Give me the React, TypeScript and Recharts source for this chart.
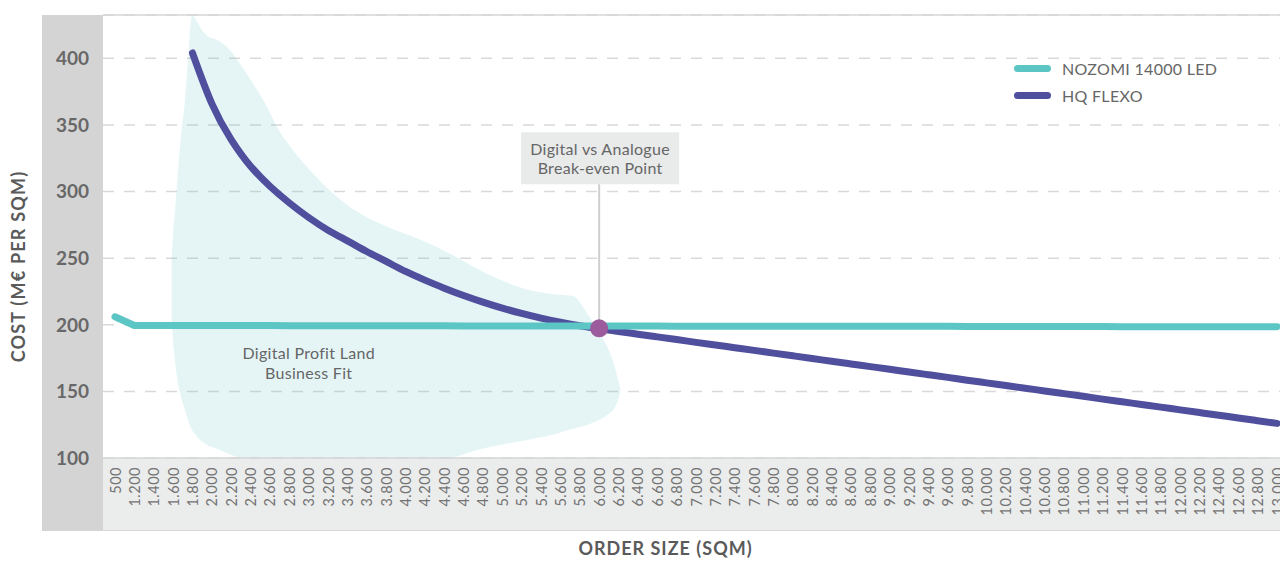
import {
  ComposedChart, Line, Area, XAxis, YAxis, CartesianGrid,
  ReferenceLine, ReferenceArea, ReferenceDot, Legend, Label,
} from 'recharts';

// x axis categories (order size, sqm)
const orderSizes = [
  '500', '1.200', '1.400', '1.600', '1.800', '2.000', '2.200', '2.400', '2.600', '2.800',
  '3.000', '3.200', '3.400', '3.600', '3.800', '4.000', '4.200', '4.400', '4.600', '4.800',
  '5.000', '5.200', '5.400', '5.600', '5.800', '6.000', '6.200', '6.400', '6.600', '6.800',
  '7.000', '7.200', '7.400', '7.600', '7.800', '8.000', '8.200', '8.400', '8.600', '8.800',
  '9.000', '9.200', '9.400', '9.600', '9.800', '10.000', '10.200', '10.400', '10.600', '10.800',
  '11.000', '11.200', '11.400', '11.600', '11.800', '12.000', '12.200', '12.400', '12.600', '12.800',
  '13.000',
];

// cost per sqm
const nozomiCost = [
  206, 199.5, 199.5, 199.5, 199.4, 199.4, 199.4, 199.4, 199.4, 199.3,
  199.3, 199.3, 199.3, 199.2, 199.2, 199.2, 199.2, 199.2, 199.1, 199.1,
  199.1, 199.1, 199.1, 199.0, 199.0, 199.0, 199.0, 199.0, 199.0, 198.9,
  198.9, 198.9, 198.9, 198.9, 198.9, 198.9, 198.8, 198.8, 198.8, 198.8,
  198.8, 198.8, 198.8, 198.8, 198.7, 198.7, 198.7, 198.7, 198.7, 198.7,
  198.7, 198.7, 198.6, 198.6, 198.6, 198.6, 198.6, 198.6, 198.6, 198.6,
  198.6,
];

const flexoCost = [
  null, null, null, null, 404, 366, 339, 319, 304, 291.5,
  280.5, 271, 263, 255, 247.5, 240, 233.5, 227.5, 222, 217,
  212.5, 208.5, 205, 202, 199.3, 197, 195, 192.9, 190.9, 188.9,
  186.8, 184.8, 182.8, 180.8, 178.7, 176.7, 174.7, 172.6, 170.6, 168.6,
  166.6, 164.5, 162.5, 160.5, 158.4, 156.4, 154.4, 152.4, 150.3, 148.3,
  146.3, 144.2, 142.2, 140.2, 138.2, 136.1, 134.1, 132.1, 130, 128,
  126,
];

// "Digital Profit Land" zone: position on the size scale (500 sits at 1.000), low and high cost
const zoneSize = [
  1584, 1599, 1620, 1651, 1682, 1723, 1754, 1795, 1837, 1878, 1950, 2064, 2157, 2291, 2426, 2570, 2673,
  2839, 3014, 3252, 3531, 3810, 4078, 4430, 4770, 5256, 5463, 5731, 5876, 6010, 6113, 6155, 6196, 6217,
];
const zoneLow = [
  204, 188.5, 172, 156, 146, 136, 128.5, 121, 117, 113.5, 110, 106.5, 103.5, 100, 97, 95, 94,
  93, 92.5, 92.5, 93, 94, 96, 99, 106.5, 113.5, 116.5, 122, 124.7, 129, 134, 137, 144, 149,
];
const zoneHigh = [
  248, 267, 286, 316, 342, 368.5, 398.5, 432, 429, 423.5, 417, 413.5, 408.5, 396, 381, 363.5, 348.5,
  331, 316, 298.5, 283.5, 273.5, 266, 254.5, 241, 226.5, 223.5, 221.5, 208.5, 193.5, 178.5, 170, 158.5, 152,
];

const costTicks = [100, 150, 200, 250, 300, 350, 400];
const breakEvenSize = 6000;
const breakEvenCost = 197.3;

const TEAL = '#5cc6c5';
const INDIGO = '#4f4f9e';
const FONT = 'Lato, "Open Sans", sans-serif';

const data = orderSizes.map((label, i) => ({ label, nozomi: nozomiCost[i], flexo: flexoCost[i] }));
const zoneData = zoneSize.map((x, i) => ({ x, range: [zoneLow[i], zoneHigh[i]] }));

const legendItems = [
  { name: 'NOZOMI 14000 LED', color: TEAL },
  { name: 'HQ FLEXO', color: INDIGO },
];

const margin = { top: 15, right: 11, left: 42, bottom: 0 };
const Y_AXIS_WIDTH = 61;
const X_AXIS_HEIGHT = 109;
const CHART_W = 1300;
const CHART_H = 567;
const plotLeft = margin.left + Y_AXIS_WIDTH;
const plotBottom = CHART_H - X_AXIS_HEIGHT;

const SizeTick = ({ x, y, payload }: any) => (
  <text
    transform={`translate(${x},${y}) rotate(-90)`}
    textAnchor="end"
    dominantBaseline="central"
    fill="#737373"
    fontSize={14.5}
    fontFamily={FONT}
    letterSpacing={0.5}
  >
    {payload.value}
  </text>
);

const ChartLegend = () => (
  <div style={{ fontFamily: FONT }}>
    {legendItems.map((item) => (
      <div key={item.name} style={{ display: 'flex', alignItems: 'center', height: 27 }}>
        <span style={{ width: 37, height: 7, borderRadius: 4, background: item.color, marginRight: 11 }} />
        <span style={{ fontSize: 16, color: '#666', letterSpacing: 0.3 }}>{item.name}</span>
      </div>
    ))}
  </div>
);

export default function App() {
  return (
    <div style={{ position: 'fixed', left: 0, top: 0, width: 1280, height: 567, overflow: 'hidden', background: '#fff' }}>
      {/* axis backgrounds */}
      <div style={{ position: 'absolute', left: margin.left, top: margin.top, width: Y_AXIS_WIDTH, height: 531 - margin.top, background: '#d4d4d4' }} />
      <div style={{ position: 'absolute', left: plotLeft, top: plotBottom, width: CHART_W - plotLeft, height: 531 - plotBottom, background: '#ebecec', borderBottom: '1px solid #d9d9d9', boxSizing: 'border-box' }} />
      <div style={{ position: 'absolute', left: 0, top: 0 }}>
        <ComposedChart width={CHART_W} height={CHART_H} data={data} margin={margin}>
          <CartesianGrid vertical={false} stroke="#d9d9d9" strokeWidth={1.5} strokeDasharray="11 10" />
          <XAxis
            dataKey="label"
            interval={0}
            padding={{ left: 12, right: 12 }}
            height={X_AXIS_HEIGHT}
            tickLine={false}
            tickSize={0}
            tickMargin={9}
            axisLine={{ stroke: '#d6d6d6', strokeWidth: 1.5 }}
            tick={<SizeTick />}
          >
            <Label
              content={({ viewBox }: any) => (
                <text
                  x={(margin.left + viewBox.x + viewBox.width) / 2}
                  y={viewBox.y + 97}
                  textAnchor="middle"
                  fill="#5a5a5a"
                  fontSize={18}
                  fontWeight={700}
                  fontFamily={FONT}
                  letterSpacing={1}
                >
                  ORDER SIZE (SQM)
                </text>
              )}
            />
          </XAxis>
          <XAxis
            xAxisId="num"
            type="number"
            dataKey="x"
            domain={[1000, 13000]}
            allowDataOverflow
            padding={{ left: 12, right: 12 }}
            hide
          />
          <YAxis
            width={Y_AXIS_WIDTH}
            domain={[100, 432.5]}
            ticks={costTicks}
            allowDataOverflow
            axisLine={false}
            tickLine={false}
            tickSize={0}
            tickMargin={14}
            tick={{ fill: '#686868', fontSize: 19, fontWeight: 700, fontFamily: FONT }}
          >
            <Label
              content={({ viewBox }: any) => (
                <text
                  transform={`translate(${viewBox.x - 24},${viewBox.y + viewBox.height / 2 + 30}) rotate(-90)`}
                  textAnchor="middle"
                  dominantBaseline="central"
                  fill="#5a5a5a"
                  fontSize={18}
                  fontWeight={700}
                  fontFamily={FONT}
                  letterSpacing={1.2}
                >
                  COST (M€ PER SQM)
                </text>
              )}
            />
          </YAxis>
          <ReferenceLine y={432.5} stroke="#d6d6d6" strokeWidth={1.5} />
          <Area
            xAxisId="num"
            data={zoneData}
            dataKey="range"
            type="monotone"
            stroke="none"
            fill="#5cc0c4"
            fillOpacity={0.16}
            isAnimationActive={false}
          />
          <ReferenceDot
            xAxisId="num"
            x={3000}
            y={171}
            r={0}
            stroke="none"
            label={{
              content: ({ viewBox }: any) => {
                const cx = viewBox.x + (viewBox.width || 0) / 2;
                const cy = viewBox.y + (viewBox.height || 0) / 2;
                return (
                  <text textAnchor="middle" fill="#666" fontSize={16} fontFamily={FONT} letterSpacing={0.3}>
                    <tspan x={cx} y={cy - 4}>Digital Profit Land</tspan>
                    <tspan x={cx} y={cy + 16}>Business Fit</tspan>
                  </text>
                );
              },
            }}
          />
          <ReferenceArea
            xAxisId="num"
            x1={5194}
            x2={6826}
            y1={305.5}
            y2={344.5}
            fill="#e9eaea"
            fillOpacity={1}
            stroke="none"
            label={{
              content: ({ viewBox }: any) => {
                const cx = viewBox.x + viewBox.width / 2;
                return (
                  <text textAnchor="middle" fill="#666" fontSize={16} fontFamily={FONT} letterSpacing={0.3}>
                    <tspan x={cx} y={viewBox.y + 23}>Digital vs Analogue</tspan>
                    <tspan x={cx} y={viewBox.y + 42}>Break-even Point</tspan>
                  </text>
                );
              },
            }}
          />
          <ReferenceLine
            xAxisId="num"
            segment={[{ x: breakEvenSize, y: breakEvenCost }, { x: breakEvenSize, y: 305.5 }]}
            stroke="#cfcfcf"
            strokeWidth={2}
          />
          <Line
            dataKey="flexo"
            name="HQ FLEXO"
            type="natural"
            stroke={INDIGO}
            strokeWidth={7}
            strokeLinecap="round"
            dot={false}
            activeDot={false}
            isAnimationActive={false}
          />
          <Line
            dataKey="nozomi"
            name="NOZOMI 14000 LED"
            type="linear"
            stroke={TEAL}
            strokeWidth={7}
            strokeLinecap="round"
            strokeLinejoin="round"
            dot={false}
            activeDot={false}
            isAnimationActive={false}
          />
          <ReferenceDot
            xAxisId="num"
            x={breakEvenSize}
            y={breakEvenCost}
            r={9}
            fill="#9b5b9c"
            stroke="none"
          />
          <Legend
            layout="vertical"
            verticalAlign="middle"
            align="center"
            wrapperStyle={{ top: 55, left: 1014, width: 260 }}
            content={<ChartLegend />}
          />
        </ComposedChart>
      </div>
    </div>
  );
}
